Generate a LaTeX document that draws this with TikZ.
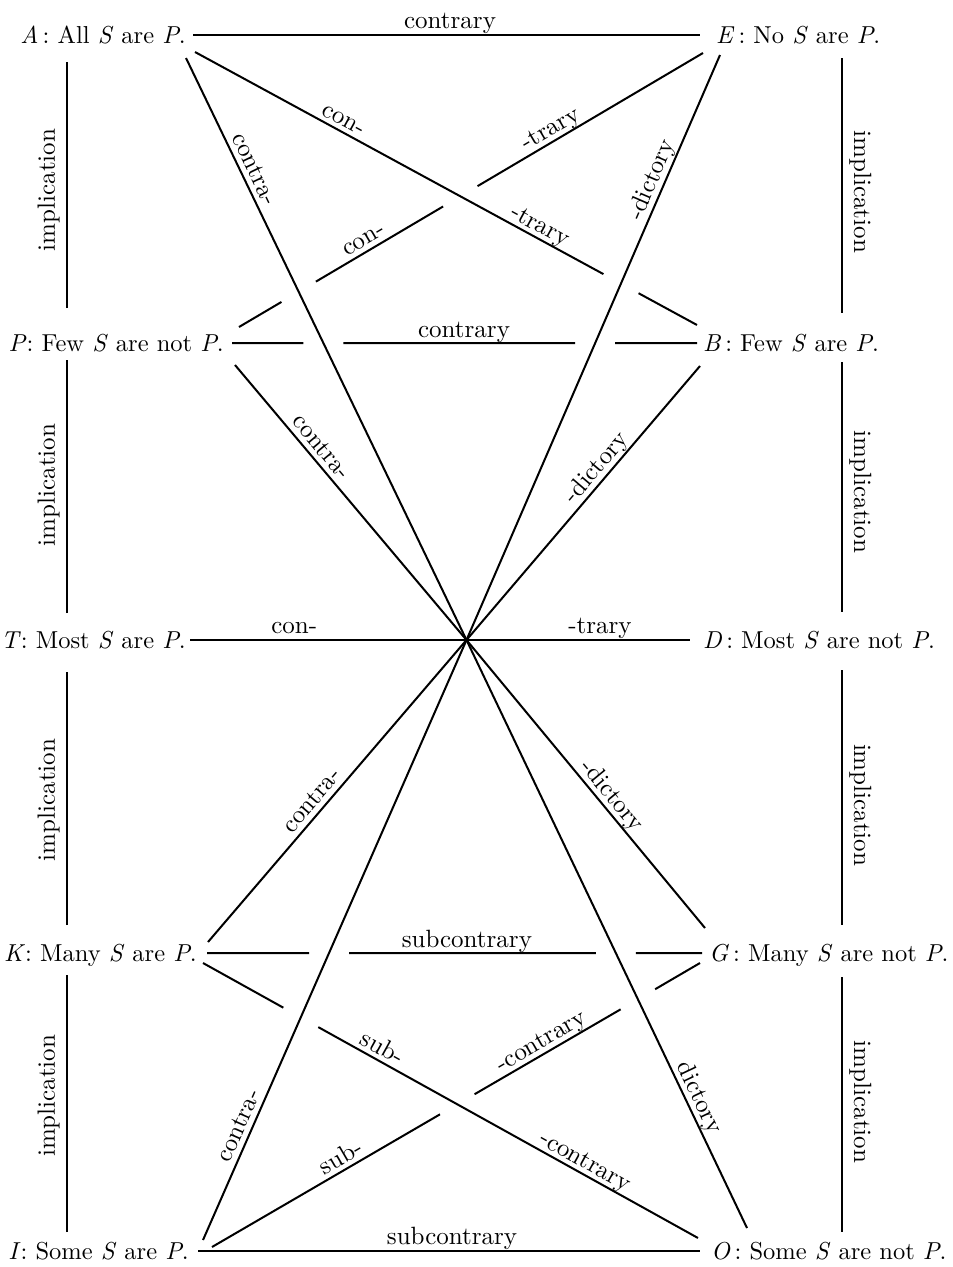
\documentclass[tikz,border=0pt]{standalone}
\usepackage{fontspec}
\setmainfont{lmroman10-regular}[Extension=.otf, ItalicFont=lmroman10-italic]
\usetikzlibrary{calc}
\begin{document}
\begin{tikzpicture}[x=1pt, y=-1pt,
  every node/.style={font=\fontsize{25}{30}\selectfont},
  ln/.style={line width=2pt},
  prop/.style={inner sep=0pt, font=\fontsize{24.5}{30}\selectfont},
  lbl/.style={inner sep=3pt, text depth=.22em, sloped, above},
  impl/.style={inner sep=9pt, text depth=.22em, sloped, above, allow upside down}]
\useasboundingbox (0,0) rectangle (953,1267);
\def\g{20pt}
% propositions
\node[prop, anchor=base east] (A) at (186,43) {\textit{A}\,: All \textit{S} are \textit{P}.};
\node[prop, anchor=base west] (E) at (716,43) {\textit{E}\,: No \textit{S} are \textit{P}.};
\node[prop, anchor=base east] (P) at (224,351) {\textit{P}: Few \textit{S} are not \textit{P}.};
\node[prop, anchor=base west] (B) at (703,351) {\textit{B}\,: Few \textit{S} are \textit{P}.};
\node[prop, anchor=base east] (T) at (186,648) {\textit{T}: Most \textit{S} are \textit{P}.};
\node[prop, anchor=base west] (D) at (703,648) {\textit{D}\,: Most \textit{S} are not \textit{P}.};
\node[prop, anchor=base east] (K) at (197,961) {\textit{K}: Many \textit{S} are \textit{P}.};
\node[prop, anchor=base west] (G) at (709,961) {\textit{G}\,: Many \textit{S} are not \textit{P}.};
\node[prop, anchor=base east] (I) at (189,1259) {\textit{I}: Some \textit{S} are \textit{P}.};
\node[prop, anchor=base west] (O) at (711,1259) {\textit{O}\,: Some \textit{S} are not \textit{P}.};
% connector end points
\coordinate (C) at (466.5,640);
\coordinate (aR) at (193,35);   \coordinate (eL) at (700,35);
\coordinate (aB) at (195,52);   \coordinate (aD) at (186,58);
\coordinate (eP) at (703,53);   \coordinate (eD) at (720,55);
\coordinate (pR) at (232,343);  \coordinate (bL) at (697,343);
\coordinate (pE) at (239,327);  \coordinate (pD) at (235,365);
\coordinate (bA) at (697,325);  \coordinate (bD) at (700,366);
\coordinate (tR) at (190,640);  \coordinate (dL) at (690,640);
\coordinate (kR) at (207,953);  \coordinate (gL) at (702,953);
\coordinate (kU) at (208,942);  \coordinate (kO) at (203,963);
\coordinate (gU) at (705,928);  \coordinate (gI) at (700,963);
\coordinate (iR) at (198,1251); \coordinate (oL) at (700,1251);
\coordinate (iU) at (203,1240); \coordinate (iG) at (212,1247);
\coordinate (oU) at (747,1228); \coordinate (oK) at (698,1238);
% crossings
\coordinate (xa) at (intersection of pE--eP and aD--C);
\coordinate (xb) at (intersection of pE--eP and aB--bA);
\coordinate (xc) at (intersection of aB--bA and C--eD);
\coordinate (xd) at (intersection of pR--bL and aD--C);
\coordinate (xe) at (intersection of pR--bL and C--eD);
\coordinate (xf) at (intersection of kR--gL and iU--C);
\coordinate (xg) at (intersection of kR--gL and C--oU);
\coordinate (xh) at (intersection of kO--oK and iU--C);
\coordinate (xi) at (intersection of iG--gI and kO--oK);
\coordinate (xj) at (intersection of iG--gI and C--oU);
% horizontal connectors
\draw[ln] (aR) -- (eL) node[lbl, pos=.507] {contrary};
\draw[ln] (pR) -- ($(xd)!\g!(pR)$) ($(xd)!\g!(xe)$) -- ($(xe)!\g!(xd)$) ($(xe)!\g!(bL)$) -- (bL);
\path (pR) -- (bL) node[lbl, pos=.499] {contrary};
\draw[ln] (tR) -- (C) node[lbl, pos=.377] {con-} -- (dL) node[lbl, pos=.597] {-trary};
\draw[ln] (kR) -- ($(xf)!\g!(kR)$) ($(xf)!\g!(xg)$) -- ($(xg)!\g!(xf)$) ($(xg)!\g!(gL)$) -- (gL);
\path (kR) -- (gL) node[lbl, pos=.525] {subcontrary};
\draw[ln] (iR) -- (oL) node[lbl, pos=.506] {subcontrary};
% long diagonals through the centre
\draw[ln] (aD) -- (C) node[lbl, pos=.201] {contra-} -- (oU) node[lbl, pos=.788] {dictory};
\draw[ln] (iU) -- (C) node[lbl, pos=.182] {contra-} -- (eD) node[lbl, pos=.778] {-dictory};
\draw[ln] (pD) -- (C) node[lbl, pos=.329] {contra-} -- (gU) node[lbl, pos=.569] {-dictory};
\draw[ln] (kU) -- (C) node[lbl, pos=.441] {contra-} -- (bD) node[lbl, pos=.598] {-dictory};
% short diagonals
\draw[ln] (aB) -- ($(xc)!\g!(aB)$) ($(xc)!\g!(bA)$) -- (bA);
\path (aB) -- (bA) node[lbl, pos=.285] {con-} node[lbl, pos=.676] {-trary};
\draw[ln] (pE) -- ($(xa)!\g!(pE)$) ($(xa)!\g!(xb)$) -- ($(xb)!\g!(xa)$) ($(xb)!\g!(eP)$) -- (eP);
\path (pE) -- (eP) node[lbl, pos=.282] {con-} node[lbl, pos=.685] {-trary};
\draw[ln] (kO) -- ($(xh)!\g!(kO)$) ($(xh)!\g!(oK)$) -- (oK);
\path (kO) -- (oK) node[lbl, pos=.350] {sub-} node[lbl, pos=.760] {-contrary};
\draw[ln] (iG) -- ($(xi)!\g!(iG)$) ($(xi)!\g!(xj)$) -- ($(xj)!\g!(xi)$) ($(xj)!\g!(gI)$) -- (gI);
\path (iG) -- (gI) node[lbl, pos=.277] {sub-} node[lbl, pos=.687] {-contrary};
% implication lines, left
\coordinate (la1) at (67,62);   \coordinate (la2) at (67,308);
\coordinate (lb1) at (67,360);  \coordinate (lb2) at (67,613);
\coordinate (lc1) at (67,672);  \coordinate (lc2) at (67,925);
\coordinate (ld1) at (67,975);  \coordinate (ld2) at (67,1232);
\draw[ln] (la2) -- (la1) node[impl, pos=.48] {implication};
\draw[ln] (lb2) -- (lb1) node[impl, pos=.506] {implication};
\draw[ln] (lc2) -- (lc1) node[impl, pos=.494] {implication};
\draw[ln] (ld2) -- (ld1) node[impl, pos=.53] {implication};
% implication lines, right
\coordinate (ra1) at (842,58);   \coordinate (ra2) at (842,313);
\coordinate (rb1) at (842,362);  \coordinate (rb2) at (842,612);
\coordinate (rc1) at (842,670);  \coordinate (rc2) at (842,925);
\coordinate (rd1) at (842,977);  \coordinate (rd2) at (842,1232);
\draw[ln] (ra1) -- (ra2) node[impl, pos=.525] {implication};
\draw[ln] (rb1) -- (rb2) node[impl, pos=.52] {implication};
\draw[ln] (rc1) -- (rc2) node[impl, pos=.53] {implication};
\draw[ln] (rd1) -- (rd2) node[impl, pos=.49] {implication};
\end{tikzpicture}
\end{document}
